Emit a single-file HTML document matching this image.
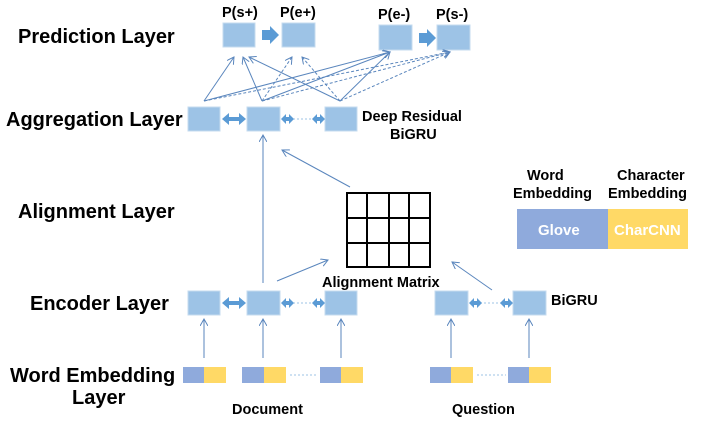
<!DOCTYPE html>
<html><head><meta charset="utf-8"><style>
body{margin:0;background:#fff;}
svg text{font-family:"Liberation Sans",sans-serif;font-weight:bold;}
</style></head><body>
<svg width="706" height="422" viewBox="0 0 706 422" xmlns="http://www.w3.org/2000/svg">
<defs>
<marker id="a" markerWidth="8" markerHeight="8" refX="7" refY="4" orient="auto" markerUnits="userSpaceOnUse"><path d="M0,0 L7,4 L0,8" fill="none" stroke="#5a86bd" stroke-width="1"/></marker>
</defs>
<g font-size="20" fill="#000">
<text x="18" y="43">Prediction Layer</text>
<text x="6" y="126">Aggregation Layer</text>
<text x="18" y="218">Alignment Layer</text>
<text x="30" y="310">Encoder Layer</text>
<text x="10" y="382">Word Embedding</text>
<text x="72" y="404">Layer</text>
</g>
<g font-size="14.5">
<text x="222" y="17">P(s+)</text><text x="280" y="17">P(e+)</text>
<text x="378" y="19">P(e-)</text><text x="436" y="19">P(s-)</text>
<text x="362" y="121">Deep Residual</text><text x="390" y="139">BiGRU</text>
<text x="322" y="287">Alignment Matrix</text>
<text x="551" y="305">BiGRU</text>
<text x="232" y="414">Document</text><text x="452" y="414">Question</text>
<text x="527" y="180">Word</text><text x="513" y="198">Embedding</text>
<text x="617" y="180">Character</text><text x="608" y="198">Embedding</text>
</g>
<rect x="517" y="209" width="91" height="40" fill="#8faadc"/>
<rect x="608" y="209" width="80" height="40" fill="#ffd966"/>
<text x="538" y="235" font-size="15" fill="#fff">Glove</text>
<text x="614" y="235" font-size="15" fill="#fff">CharCNN</text>
<g fill="#9dc3e6" stroke="#c5dbef" stroke-width="1">
<rect x="223" y="23" width="32" height="24"/><rect x="282" y="23" width="33" height="24"/>
<rect x="379" y="25" width="33" height="25"/><rect x="437" y="25" width="33" height="25"/>
<rect x="188" y="107" width="32" height="24"/><rect x="247" y="107" width="33" height="24"/><rect x="325" y="107" width="32" height="24"/>
<rect x="188" y="291" width="32" height="24"/><rect x="247" y="291" width="33" height="24"/><rect x="325" y="291" width="32" height="24"/>
<rect x="435" y="291" width="33" height="24"/><rect x="513" y="291" width="33" height="24"/>
</g>
<g>
<rect x="183" y="367" width="21" height="16" fill="#8faadc"/><rect x="204" y="367" width="22" height="16" fill="#ffd966"/>
<rect x="242" y="367" width="22" height="16" fill="#8faadc"/><rect x="264" y="367" width="22" height="16" fill="#ffd966"/>
<rect x="320" y="367" width="21" height="16" fill="#8faadc"/><rect x="341" y="367" width="22" height="16" fill="#ffd966"/>
<rect x="430" y="367" width="21" height="16" fill="#8faadc"/><rect x="451" y="367" width="22" height="16" fill="#ffd966"/>
<rect x="508" y="367" width="21" height="16" fill="#8faadc"/><rect x="529" y="367" width="22" height="16" fill="#ffd966"/>
</g>
<g stroke="#9dc3e6" stroke-dasharray="2,2" stroke-width="1">
<line x1="290" y1="375" x2="318" y2="375"/><line x1="477" y1="375" x2="506" y2="375"/>
<line x1="293" y1="119" x2="313" y2="119"/><line x1="293" y1="303" x2="313" y2="303"/><line x1="480" y1="303" x2="502" y2="303"/>
</g>
<g fill="#5b9bd5">
<path d="M262,30 l8,0 l0,-4 l9,9 l-9,9 l0,-4 l-8,0z"/>
<path d="M419,33 l8,0 l0,-4 l9,9 l-9,9 l0,-4 l-8,0z"/>
<path d="M222,119 l7,-6 l0,4 l10,0 l0,-4 l7,6 l-7,6 l0,-4 l-10,0 l0,4z"/>
<path d="M222,303 l7,-6 l0,4 l10,0 l0,-4 l7,6 l-7,6 l0,-4 l-10,0 l0,4z"/>
<path d="M281,119 l5,-5 l0,3 l3,0 l0,-3 l5,5 l-5,5 l0,-3 l-3,0 l0,3z"/>
<path d="M312,119 l5,-5 l0,3 l3,0 l0,-3 l5,5 l-5,5 l0,-3 l-3,0 l0,3z"/>
<path d="M281,303 l5,-5 l0,3 l3,0 l0,-3 l5,5 l-5,5 l0,-3 l-3,0 l0,3z"/>
<path d="M312,303 l5,-5 l0,3 l3,0 l0,-3 l5,5 l-5,5 l0,-3 l-3,0 l0,3z"/>
<path d="M469,303 l5,-5 l0,3 l3,0 l0,-3 l5,5 l-5,5 l0,-3 l-3,0 l0,3z"/>
<path d="M500,303 l5,-5 l0,3 l3,0 l0,-3 l5,5 l-5,5 l0,-3 l-3,0 l0,3z"/>
</g>
<g stroke="#000" stroke-width="2" fill="none">
<rect x="347" y="193" width="83" height="74"/>
<line x1="367" y1="193" x2="367" y2="267"/><line x1="389" y1="193" x2="389" y2="267"/><line x1="409" y1="193" x2="409" y2="267"/>
<line x1="347" y1="218" x2="430" y2="218"/><line x1="347" y1="243" x2="430" y2="243"/>
</g>
<g stroke="#5a86bd" stroke-width="1" fill="none" marker-end="url(#a)">
<line x1="204" y1="358" x2="204" y2="319"/><line x1="263" y1="358" x2="263" y2="319"/><line x1="341" y1="358" x2="341" y2="319"/>
<line x1="451" y1="358" x2="451" y2="319"/><line x1="529" y1="358" x2="529" y2="319"/>
<line x1="263" y1="283" x2="263" y2="135"/>
<line x1="277" y1="281" x2="328" y2="260"/>
<line x1="492" y1="290" x2="452" y2="262"/>
<line x1="350" y1="187" x2="282" y2="150"/>
<line x1="204" y1="101" x2="234" y2="57"/>
<line x1="262" y1="101" x2="243" y2="57"/>
<line x1="340" y1="101" x2="249" y2="57"/>
<line x1="204" y1="101" x2="390" y2="52"/>
<line x1="262" y1="101" x2="390" y2="52"/>
<line x1="340" y1="101" x2="390" y2="52"/>
</g>
<g stroke="#5a86bd" stroke-width="1" fill="none" stroke-dasharray="3,2" marker-end="url(#a)">
<line x1="262" y1="101" x2="292" y2="57"/>
<line x1="340" y1="101" x2="302" y2="57"/>
<line x1="204" y1="101" x2="450" y2="52"/>
<line x1="262" y1="101" x2="450" y2="52"/>
<line x1="340" y1="101" x2="450" y2="52"/>
</g>
</svg>
</body></html>
